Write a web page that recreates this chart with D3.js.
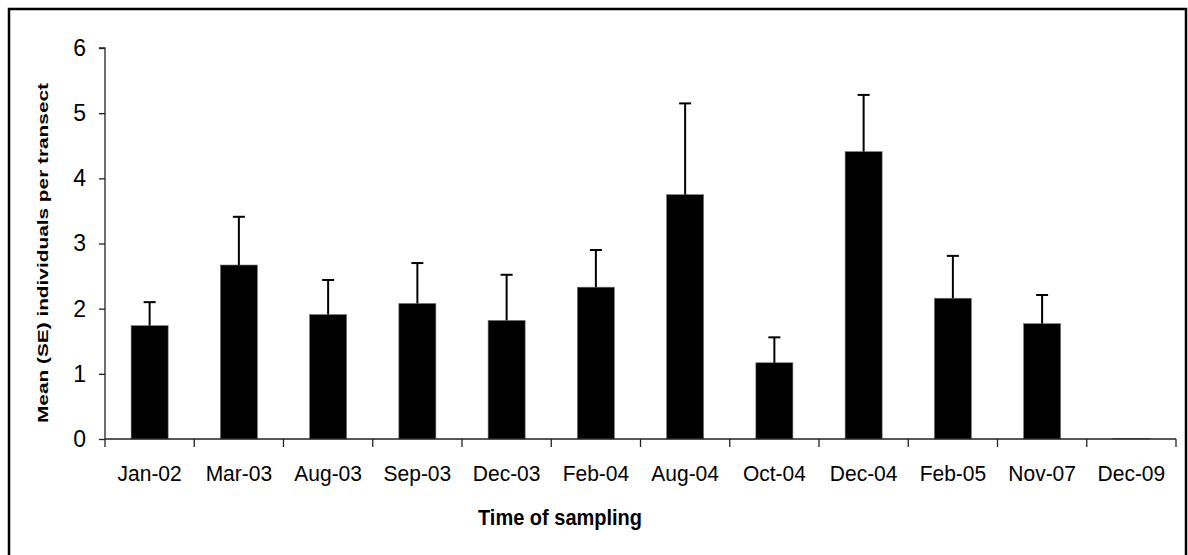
<!DOCTYPE html>
<html>
<head>
<meta charset="utf-8">
<script src="https://cdn.jsdelivr.net/npm/d3@7"></script>
<style>
  html, body { margin: 0; padding: 0; background: #fff; }
  svg { display: block; font-family: "Liberation Sans", Arial, sans-serif; }
</style>
</head>
<body>
<svg id="chart" width="1188" height="555"></svg>
<script>
const categories = ["Jan-02","Mar-03","Aug-03","Sep-03","Dec-03","Feb-04","Aug-04","Oct-04","Dec-04","Feb-05","Nov-07","Dec-09"];
const means = [1.74, 2.67, 1.91, 2.08, 1.82, 2.33, 3.75, 1.17, 4.41, 2.16, 1.77, 0.01];
const upperSE = [2.10, 3.41, 2.44, 2.70, 2.52, 2.90, 5.15, 1.56, 5.28, 2.81, 2.21, 0.01];
const yTicks = [0, 1, 2, 3, 4, 5, 6];
const xTitle = "Time of sampling";
const yTitle = "Mean (SE) individuals per transect";

(function () {
const data = categories.map((c, i) => ({ c, m: means[i], u: upperSE[i] }));

const svg = d3.select("#chart");
const pLeft = 105, pRight = 1176, pTop = 48, pBottom = 439;

// outer frame
svg.append("rect").attr("x", 9).attr("y", 9).attr("width", 1177).attr("height", 600)
  .attr("fill", "none").attr("stroke", "#000").attr("stroke-width", 2.5);

const x = d3.scaleBand().domain(categories).range([pLeft, pRight])
  .paddingInner(0.585).paddingOuter(0.2925);
const y = d3.scaleLinear().domain([0, 6]).range([pBottom, pTop]);
const step = x.step();

// bars
svg.append("g").selectAll("rect").data(data).join("rect")
  .attr("x", d => x(d.c)).attr("width", x.bandwidth())
  .attr("y", d => y(d.m)).attr("height", d => y(0) - y(d.m))
  .attr("fill", "#000").attr("stroke", "#777").attr("stroke-width", 0.6);

// error bars
const eb = svg.append("g").attr("stroke", "#000").attr("stroke-width", 2);
const errData = data.filter(d => d.u > d.m);
eb.selectAll("line.v").data(errData).join("line").attr("class", "v")
  .attr("x1", d => x(d.c) + x.bandwidth() / 2).attr("x2", d => x(d.c) + x.bandwidth() / 2)
  .attr("y1", d => y(d.m)).attr("y2", d => y(d.u));
eb.selectAll("line.h").data(errData).join("line").attr("class", "h")
  .attr("x1", d => x(d.c) + x.bandwidth() / 2 - 6).attr("x2", d => x(d.c) + x.bandwidth() / 2 + 6)
  .attr("y1", d => y(d.u)).attr("y2", d => y(d.u));

// y axis
const yAxis = d3.axisLeft(y).tickValues(yTicks).tickFormat(d3.format("d")).tickSize(6).tickPadding(13);
const gy = svg.append("g").attr("transform", `translate(${pLeft},0)`).call(yAxis);
gy.select(".domain").attr("stroke", "#222").attr("stroke-width", 1.3).attr("d", `M-6,${pTop}H0V${pBottom}`);
gy.selectAll(".tick line").attr("stroke", "#222").attr("stroke-width", 1.3);
gy.selectAll(".tick text").attr("font-size", 23).attr("fill", "#000")
  .attr("font-family", "'Liberation Sans', Arial, sans-serif");

// x axis
const gx = svg.append("g").attr("transform", `translate(0,${pBottom})`);
gx.append("line").attr("x1", pLeft).attr("x2", pRight).attr("y1", 0).attr("y2", 0)
  .attr("stroke", "#222").attr("stroke-width", 1.3);
const boundaries = [x(categories[0]) - step * x.paddingOuter()]
  .concat(categories.map(c => x(c) + x.bandwidth() / 2 + step / 2));
gx.selectAll("line.t").data(boundaries).join("line").attr("class", "t")
  .attr("x1", d => d).attr("x2", d => d).attr("y1", 0).attr("y2", 8)
  .attr("stroke", "#222").attr("stroke-width", 1.3);
gx.selectAll("text").data(categories).join("text")
  .attr("transform", d => `translate(${x(d) + x.bandwidth() / 2},42) scale(1,1.05)`)
  .attr("text-anchor", "middle").attr("font-size", 21).attr("fill", "#000")
  .text(d => d);

// titles
svg.append("text").attr("transform", "translate(560,525) scale(1,1.12)").attr("text-anchor", "middle")
  .attr("font-size", 20).attr("font-weight", "bold").text(xTitle);
svg.append("text").attr("transform", "translate(48,253) rotate(-90)")
  .attr("text-anchor", "middle").attr("font-size", 14).attr("font-weight", "bold")
  .attr("textLength", 340).attr("lengthAdjust", "spacingAndGlyphs").text(yTitle);
})();
</script>
</body>
</html>
